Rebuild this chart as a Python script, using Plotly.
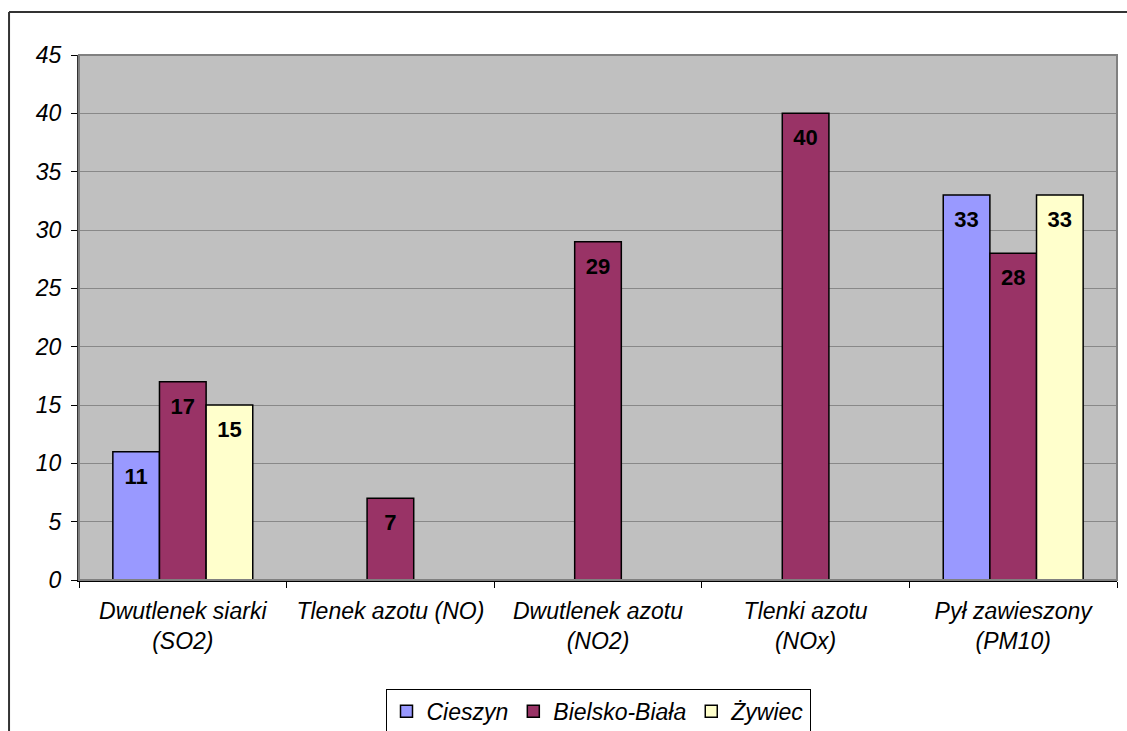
import plotly.graph_objects as go

categories = ["Dwutlenek siarki<br>(SO2)", "Tlenek azotu (NO)", "Dwutlenek azotu<br>(NO2)",
              "Tlenki azotu<br>(NOx)", "Pył zawieszony<br>(PM10)"]
series_names = ["Cieszyn", "Bielsko-Biała", "Żywiec"]
cieszyn = [11, None, None, None, 33]
bielsko = [17, 7, 29, 40, 28]
zywiec = [15, None, None, None, 33]
y_ticks = [0, 5, 10, 15, 20, 25, 30, 35, 40, 45]

colors = ["#9999FF", "#993366", "#FFFFCC"]
FONT = "Liberation Sans, Arial, sans-serif"
GAP = 0.326

fig = go.Figure()
for i, (name, vals, col) in enumerate(zip(series_names, [cieszyn, bielsko, zywiec], colors)):
    fig.add_trace(go.Bar(
        name=name, x=categories, y=vals, offsetgroup=str(i),
        marker=dict(color=col, line=dict(color="black", width=1.5)),
        hoverinfo="skip",
    ))
for i, vals in enumerate([cieszyn, bielsko, zywiec]):
    fig.add_trace(go.Scatter(
        x=categories, y=vals, offsetgroup=str(i), mode="markers+text",
        marker=dict(size=23, opacity=0),
        text=[("" if v is None else str(v)) for v in vals],
        textposition="bottom center",
        textfont=dict(family=FONT, size=22, color="black", weight="bold", style="normal"),
        showlegend=False, cliponaxis=False, hoverinfo="skip",
    ))

fig.update_layout(
    width=1127, height=731,
    margin=dict(l=79, r=10, t=55, b=151, autoexpand=False),
    paper_bgcolor="white", plot_bgcolor="#C0C0C0",
    barmode="group", bargap=GAP, bargroupgap=0,
    scattermode="group", scattergap=GAP,
    font=dict(family=FONT, size=23, color="black", style="italic"),
    showlegend=True,
    legend=dict(orientation="h", x=0.5, xanchor="center", y=-0.207, yanchor="top",
                bordercolor="black", borderwidth=1, bgcolor="white",
                font=dict(family=FONT, size=23, color="black", style="italic"),
                itemwidth=30, tracegroupgap=0),
    xaxis=dict(showgrid=False, ticks="outside", tickson="boundaries", ticklen=6,
               tickcolor="black", showline=True, linecolor="black", linewidth=1.5,
               ticklabelstandoff=10,
               tickfont=dict(family=FONT, size=23, style="italic")),
    yaxis=dict(range=[0, 45], tickvals=y_ticks, showgrid=True, gridcolor="#888888", gridwidth=1,
               ticks="outside", ticklen=6, tickcolor="black", showline=True,
               linecolor="#333333", linewidth=2, zeroline=False,
               ticklabelstandoff=5,
               tickfont=dict(family=FONT, size=23, style="italic")),
    shapes=[
        dict(type="rect", xref="paper", yref="paper", x0=0, x1=1, y0=0, y1=1,
             line=dict(color="#808080", width=2), layer="above"),
        dict(type="line", xref="paper", yref="paper", x0=-0.0674, x1=1.1, y0=1.0819, y1=1.0819,
             line=dict(color="#333333", width=2)),
        dict(type="line", xref="paper", yref="paper", x0=-0.0674, x1=-0.0674, y0=-0.4, y1=1.0819,
             line=dict(color="#333333", width=2)),
    ],
)

fig.write_html("out.html", config={"displayModeBar": False},
               post_script="document.body.style.margin='0';document.body.style.overflow='hidden';")
